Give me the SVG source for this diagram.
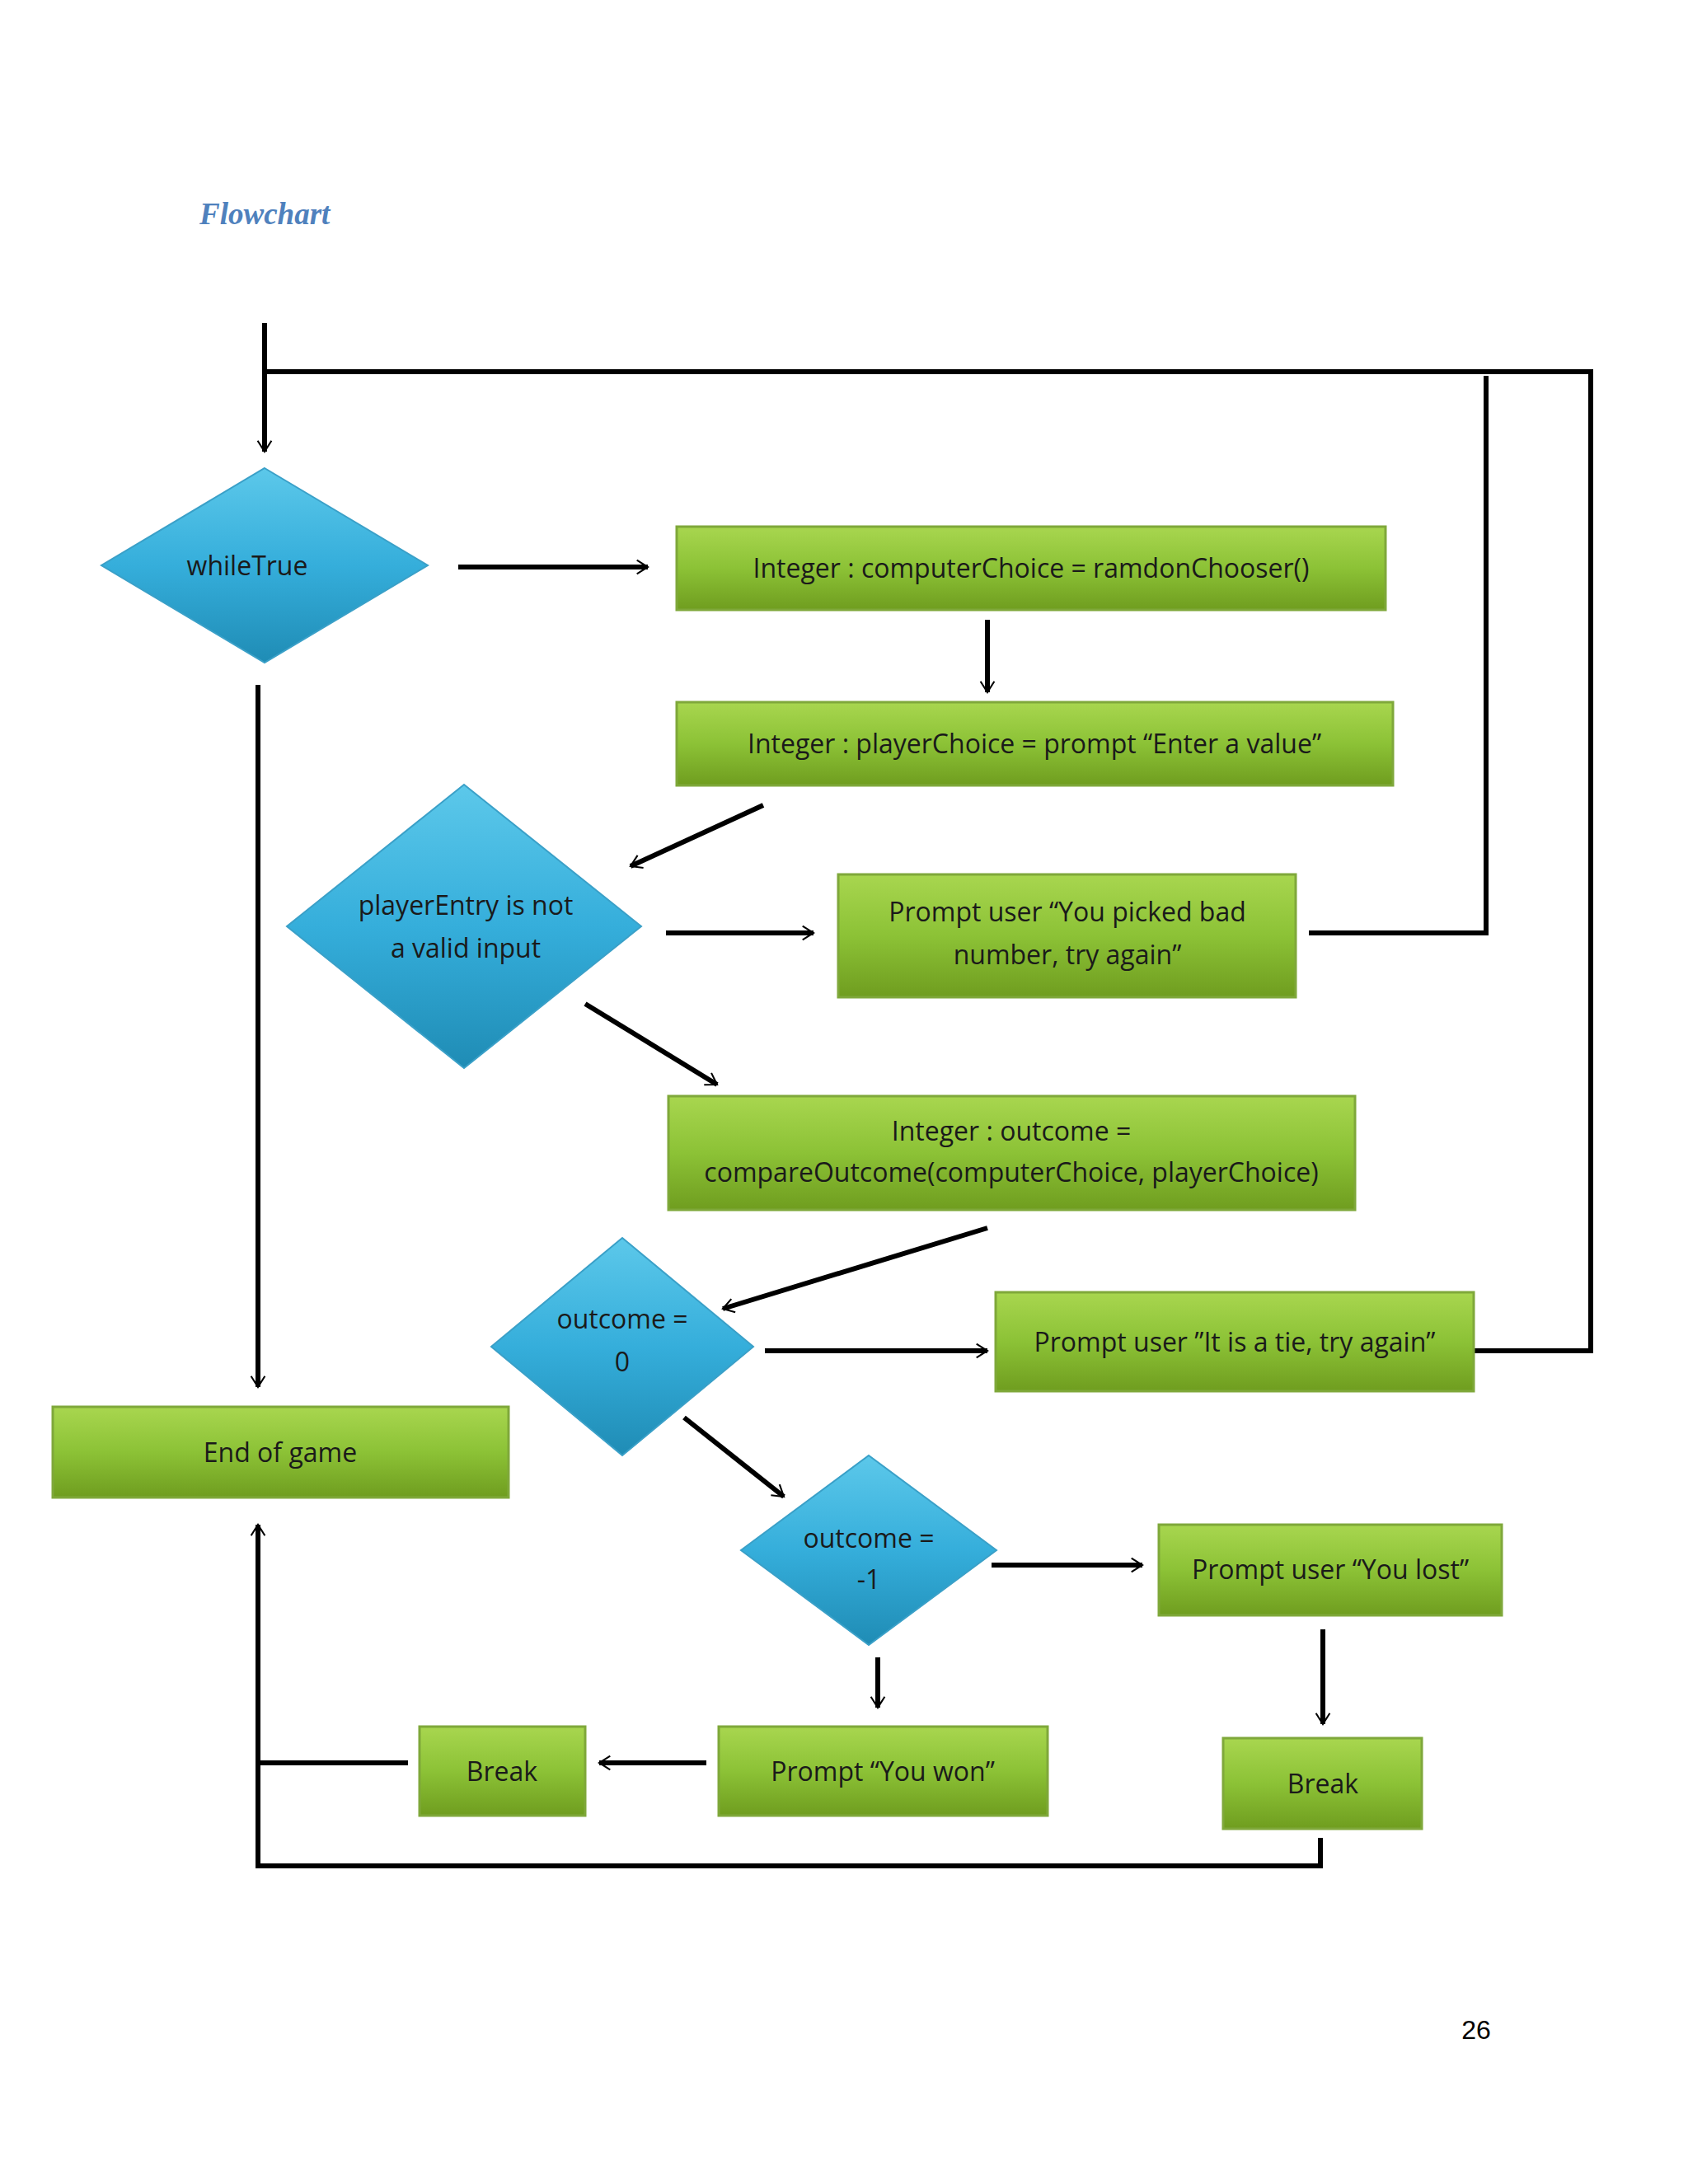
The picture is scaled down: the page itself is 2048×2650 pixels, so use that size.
<svg xmlns="http://www.w3.org/2000/svg" width="2048" height="2650" viewBox="0 0 2048 2650">
<defs>
<linearGradient id="g" x1="0" y1="0" x2="0" y2="1"><stop offset="0" stop-color="#a8d64f"/><stop offset="0.5" stop-color="#8cc236"/><stop offset="1" stop-color="#6f9d1f"/></linearGradient>
<linearGradient id="b" x1="0" y1="0" x2="0" y2="1"><stop offset="0" stop-color="#5cc8ea"/><stop offset="0.5" stop-color="#35aedb"/><stop offset="1" stop-color="#1f8cb5"/></linearGradient>
<marker id="a" viewBox="0 0 20 20" refX="18" refY="10" markerWidth="7" markerHeight="7" orient="auto" markerUnits="userSpaceOnUse" overflow="visible"><path d="M-20,-14 L18,10 L-20,34" fill="none" stroke="#000" stroke-width="6"/></marker>
<style>
.box{fill:url(#g);stroke:#7fa83a;stroke-width:3}
.dia{fill:url(#b);stroke:#3aa0c8;stroke-width:2}
.t{font-family:"Open Sans","Liberation Sans",sans-serif;font-size:32px;fill:#1a1a1a;text-anchor:middle}
.c{fill:none;stroke:#000;stroke-width:6}
.ar{marker-end:url(#a)}
</style>
</defs>
<rect width="2048" height="2650" fill="#fff"/>
<text x="242" y="272" font-family="Liberation Serif,serif" font-style="italic" font-weight="bold" font-size="37" fill="#4f81bd">Flowchart</text>
<text x="1791" y="2474" font-family="Liberation Sans,sans-serif" font-size="32" fill="#000" text-anchor="middle">26</text>
<g id="connectors">
<path class="c ar" d="M321,392 V548"/>
<path class="c" d="M321,451 H1930 V1639 H1774"/>
<path class="c" d="M1588,1132 H1803 V456"/>
<path class="c ar" d="M556,688 H786"/>
<path class="c ar" d="M1198,752 V840"/>
<path class="c ar" d="M926,977 L765,1051"/>
<path class="c ar" d="M808,1132 H987"/>
<path class="c ar" d="M710,1218 L870,1316"/>
<path class="c ar" d="M1198,1490 L877,1588"/>
<path class="c ar" d="M928,1639 H1198"/>
<path class="c ar" d="M830,1720 L951,1816"/>
<path class="c ar" d="M1203,1899 H1386"/>
<path class="c ar" d="M1605,1977 V2092"/>
<path class="c ar" d="M1602,2230 V2264 H313 V1850"/>
<path class="c ar" d="M1065,2011 V2072"/>
<path class="c ar" d="M857,2139 H727"/>
<path class="c" d="M495,2139 H313"/>
<path class="c ar" d="M313,831 V1683"/>
</g>
<g id="whileTrue"><polygon class="dia" points="321,568 519,686 321,804 123,686"/><text class="t" x="300" y="698">whileTrue</text></g>
<g id="computerChoice"><rect class="box" x="821" y="639" width="860" height="101"/><text class="t" x="1251" y="701">Integer : computerChoice = ramdonChooser()</text></g>
<g id="playerChoice"><rect class="box" x="821" y="852" width="869" height="101"/><text class="t" x="1255" y="914">Integer : playerChoice = prompt “Enter a value”</text></g>
<g id="validInput"><polygon class="dia" points="563,952 778,1124 563,1296 348,1124"/><text class="t" x="565" y="1110">playerEntry is not</text><text class="t" x="565" y="1162">a valid input</text></g>
<g id="badNumber"><rect class="box" x="1017" y="1061" width="555" height="149"/><text class="t" x="1295" y="1118">Prompt user “You picked  bad</text><text class="t" x="1295" y="1170">number, try again”</text></g>
<g id="outcome"><rect class="box" x="811" y="1330" width="833" height="138"/><text class="t" x="1227" y="1384">Integer : outcome =</text><text class="t" x="1227" y="1434">compareOutcome(computerChoice, playerChoice)</text></g>
<g id="outcome0"><polygon class="dia" points="755,1502 914,1634 755,1766 596,1634"/><text class="t" x="755" y="1612">outcome =</text><text class="t" x="755" y="1664">0</text></g>
<g id="tie"><rect class="box" x="1208" y="1568" width="580" height="120"/><text class="t" x="1498" y="1640">Prompt user ”It is a tie,  try again”</text></g>
<g id="outcomeM1"><polygon class="dia" points="1054,1766 1209,1881 1054,1996 899,1881"/><text class="t" x="1054" y="1878">outcome =</text><text class="t" x="1054" y="1928">-1</text></g>
<g id="lost"><rect class="box" x="1406" y="1850" width="416" height="110"/><text class="t" x="1614" y="1916">Prompt user “You lost”</text></g>
<g id="breakRight"><rect class="box" x="1484" y="2109" width="241" height="110"/><text class="t" x="1605" y="2176">Break</text></g>
<g id="won"><rect class="box" x="872" y="2095" width="399" height="108"/><text class="t" x="1071" y="2161">Prompt “You won”</text></g>
<g id="breakLeft"><rect class="box" x="509" y="2095" width="201" height="108"/><text class="t" x="609" y="2161">Break</text></g>
<g id="endOfGame"><rect class="box" x="64" y="1707" width="553" height="110"/><text class="t" x="340" y="1774">End of game</text></g>
</svg>
